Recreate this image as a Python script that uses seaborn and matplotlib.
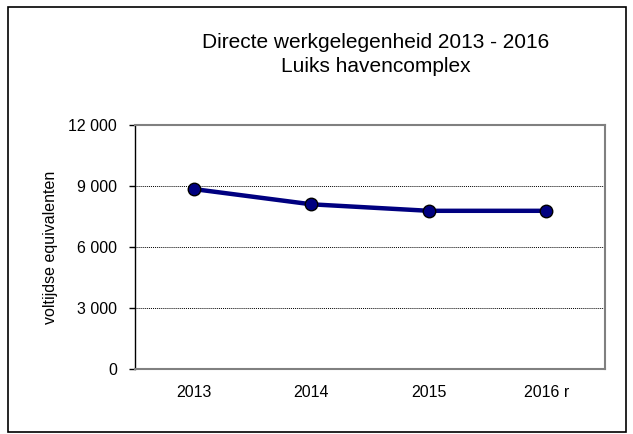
import matplotlib
matplotlib.use('Agg')
import matplotlib.pyplot as plt
import seaborn as sns
import pandas as pd
from matplotlib.patches import Rectangle
from matplotlib.ticker import FuncFormatter

# Data
years = ['2013', '2014', '2015', '2016 r']
jobs = [8850, 8100, 7780, 7780]
y_ticks = [0, 3000, 6000, 9000, 12000]

df = pd.DataFrame({'jaar': years, 'vte': jobs})

sns.set_style('white')
plt.rcParams['font.family'] = ['Liberation Sans', 'DejaVu Sans']
plt.rcParams['text.color'] = 'black'
plt.rcParams['axes.labelcolor'] = 'black'
plt.rcParams['xtick.color'] = 'black'
plt.rcParams['ytick.color'] = 'black'

fig = plt.figure(figsize=(6.33, 4.34), dpi=100)
ax = fig.add_axes([135 / 633, 1 - 369 / 434, 470 / 633, 244 / 434])

sns.lineplot(data=df, x='jaar', y='vte', ax=ax, color='#000080', linewidth=3.2,
             marker='o', markersize=9, markerfacecolor='#000080',
             markeredgecolor='black', markeredgewidth=1, sort=False)

ax.set_xlim(-0.5, len(years) - 0.5)
ax.set_ylim(0, 12000)
ax.set_yticks(y_ticks)
ax.yaxis.set_major_formatter(FuncFormatter(lambda v, p: f'{int(v):,}'.replace(',', ' ')))
for t in y_ticks[1:-1]:
    ax.axhline(t, color='black', linestyle=(0, (1, 1)), linewidth=0.7, zorder=0)

ax.tick_params(axis='y', which='both', left=True, length=4, width=1, color='black',
               labelsize=11.5, pad=9)
ax.tick_params(axis='x', bottom=False, labelsize=11.5, pad=8)
for s in ['top', 'right', 'bottom']:
    ax.spines[s].set_color('#808080')
    ax.spines[s].set_linewidth(1.5)
ax.spines['left'].set_color('black')
ax.spines['left'].set_linewidth(1)

ax.set_xlabel('')
ax.set_ylabel('voltijdse equivalenten', fontsize=11.5, labelpad=7)

fig.text(376 / 633, 1 - 42 / 434, 'Directe werkgelegenheid 2013 - 2016', ha='center',
         va='center', fontsize=15)
fig.text(376 / 633, 1 - 66 / 434, 'Luiks havencomplex', ha='center', va='center', fontsize=15)

# outer frame of the chart
fig.patches.append(Rectangle((8 / 633, 1 - 432 / 434), 618 / 633, 425 / 434,
                             transform=fig.transFigure, fill=False, edgecolor='black',
                             linewidth=1.2))

plt.savefig('out.png', dpi=100)
